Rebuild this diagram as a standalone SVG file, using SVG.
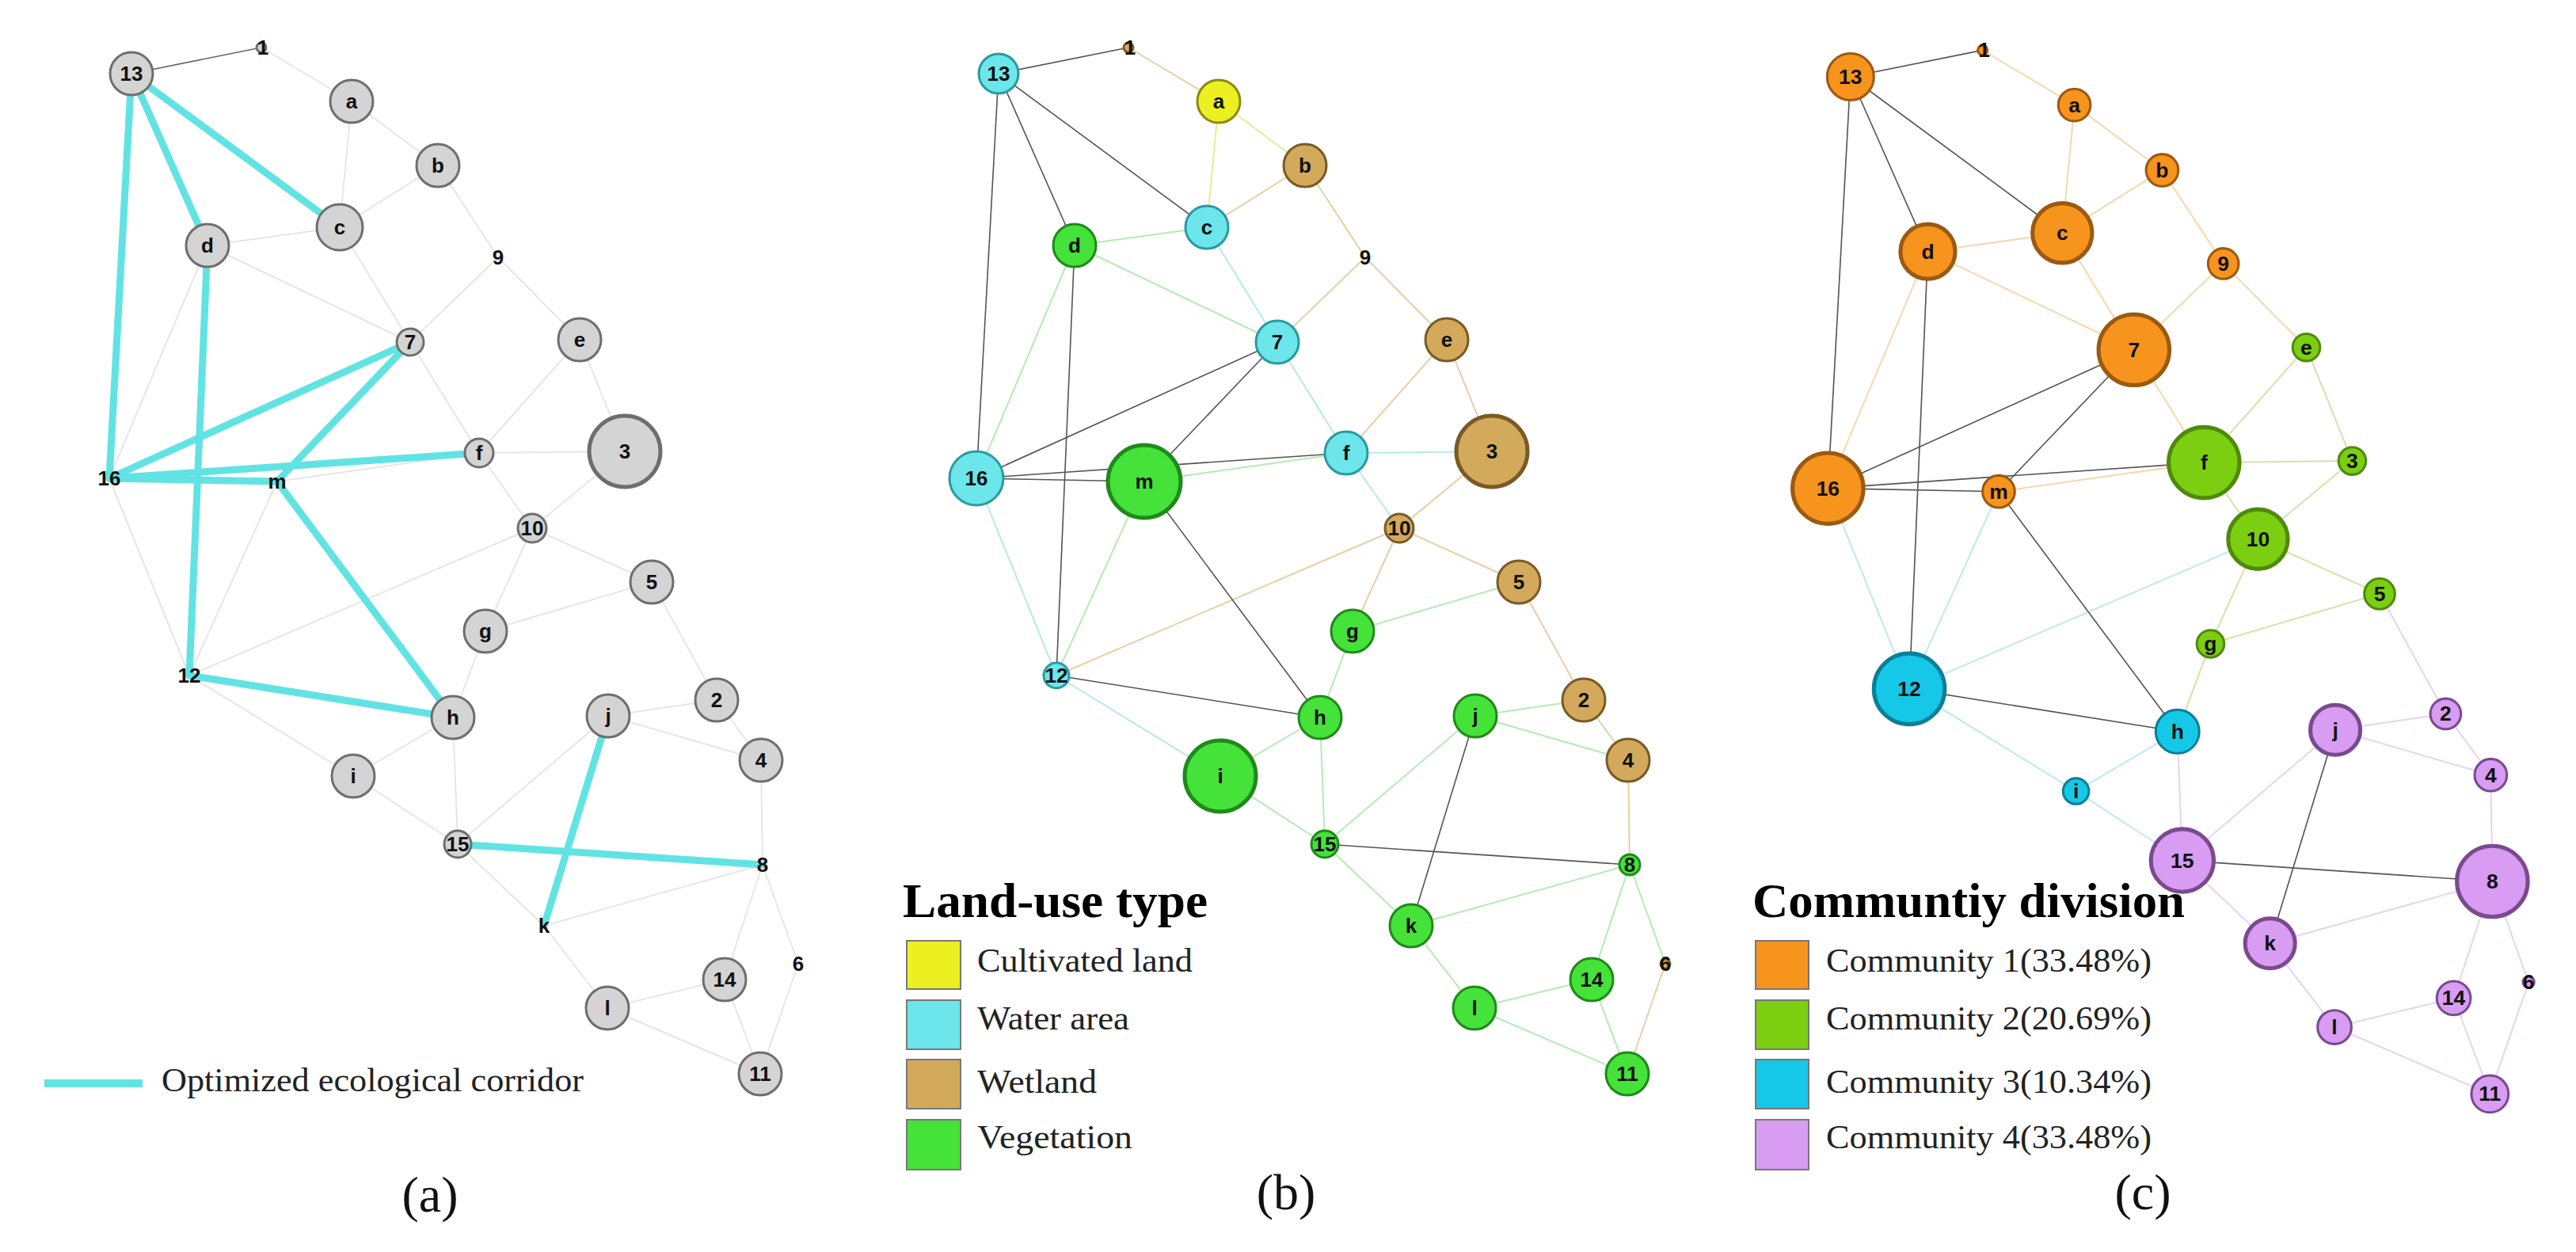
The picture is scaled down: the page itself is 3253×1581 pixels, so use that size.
<svg xmlns="http://www.w3.org/2000/svg" width="3253" height="1581" viewBox="0 0 3253 1581">
<style>
text{font-family:"Liberation Sans",Arial,sans-serif;font-weight:bold;font-size:26px;text-anchor:middle;dominant-baseline:central;fill:#111}
text.ser{font-family:"Liberation Serif","Times New Roman",serif;font-weight:normal;font-size:43px;text-anchor:start;dominant-baseline:auto;fill:#222}
text.ttl{font-family:"Liberation Serif","Times New Roman",serif;font-weight:bold;font-size:62px;text-anchor:start;dominant-baseline:auto;fill:#000}
text.pl{font-family:"Liberation Serif","Times New Roman",serif;font-weight:normal;font-size:64px;dominant-baseline:auto;fill:#111}
.ga{fill:#d4d4d4;stroke:#6e6e6e;stroke-width:3}
.Y{fill:#ecef20;stroke:#8a8a10;stroke-width:3}
.W{fill:#6ce6ea;stroke:#2a9aa0;stroke-width:3}
.T{fill:#d3aa5c;stroke:#7a5a25;stroke-width:3}
.G{fill:#45e23a;stroke:#1f8a1a;stroke-width:3}
.O{fill:#f7941d;stroke:#9a5a10;stroke-width:3}
.GG{fill:#7ccf10;stroke:#4f8a0a;stroke-width:3}
.C{fill:#16c8e8;stroke:#0a7f98;stroke-width:3}
.P{fill:#d89cf2;stroke:#7a4a8e;stroke-width:3}
.big{stroke-width:5}
.lt line{stroke-width:2;fill:none}
.dk line{stroke:#555;stroke-width:1.6}
.sw{stroke:#777;stroke-width:2}
</style>

<!-- ========== Panel (a) ========== -->
<g id="connectors-a">
<g class="lt" stroke="#e6e6e6">
<line x1="330" y1="60" x2="444" y2="128"/><line x1="444" y1="128" x2="553" y2="209"/><line x1="444" y1="128" x2="429" y2="287"/><line x1="553" y1="209" x2="429" y2="287"/><line x1="553" y1="209" x2="629" y2="325"/><line x1="262" y1="310" x2="429" y2="287"/><line x1="262" y1="310" x2="518" y2="432"/><line x1="262" y1="310" x2="138" y2="604"/><line x1="429" y1="287" x2="518" y2="432"/><line x1="629" y1="325" x2="518" y2="432"/><line x1="629" y1="325" x2="732" y2="429"/><line x1="518" y1="432" x2="605" y2="572"/><line x1="732" y1="429" x2="605" y2="572"/><line x1="732" y1="429" x2="789" y2="570"/><line x1="605" y1="572" x2="789" y2="570"/><line x1="350" y1="608" x2="605" y2="572"/><line x1="138" y1="604" x2="239" y2="853"/><line x1="350" y1="608" x2="239" y2="853"/><line x1="605" y1="572" x2="672" y2="667"/><line x1="789" y1="570" x2="672" y2="667"/><line x1="672" y1="667" x2="239" y2="853"/><line x1="672" y1="667" x2="823" y2="735"/><line x1="672" y1="667" x2="613" y2="797"/><line x1="613" y1="797" x2="823" y2="735"/><line x1="613" y1="797" x2="572" y2="906"/><line x1="239" y1="853" x2="446" y2="980"/><line x1="446" y1="980" x2="572" y2="906"/><line x1="572" y1="906" x2="578" y2="1066"/><line x1="446" y1="980" x2="578" y2="1066"/><line x1="823" y1="735" x2="905" y2="884"/><line x1="768" y1="904" x2="905" y2="884"/><line x1="768" y1="904" x2="961" y2="960"/><line x1="905" y1="884" x2="961" y2="960"/><line x1="768" y1="904" x2="578" y2="1066"/><line x1="578" y1="1066" x2="687" y2="1169"/><line x1="687" y1="1169" x2="963" y2="1092"/><line x1="961" y1="960" x2="963" y2="1092"/><line x1="963" y1="1092" x2="915" y2="1237"/><line x1="963" y1="1092" x2="1008" y2="1217"/><line x1="687" y1="1169" x2="767" y2="1273"/><line x1="767" y1="1273" x2="915" y2="1237"/><line x1="767" y1="1273" x2="960" y2="1356"/><line x1="915" y1="1237" x2="960" y2="1356"/><line x1="1008" y1="1217" x2="960" y2="1356"/>
</g>
<line x1="166" y1="93" x2="330" y2="60" stroke="#666" stroke-width="1.6"/>
<g stroke="#62e3e3" stroke-width="9" stroke-linecap="round">
<line x1="166" y1="93" x2="138" y2="604"/><line x1="166" y1="93" x2="262" y2="310"/><line x1="166" y1="93" x2="429" y2="287"/><line x1="262" y1="310" x2="239" y2="853"/><line x1="138" y1="604" x2="518" y2="432"/><line x1="138" y1="604" x2="605" y2="572"/><line x1="138" y1="604" x2="350" y2="608"/><line x1="350" y1="608" x2="518" y2="432"/><line x1="350" y1="608" x2="572" y2="906"/><line x1="239" y1="853" x2="572" y2="906"/><line x1="578" y1="1066" x2="963" y2="1092"/><line x1="768" y1="904" x2="687" y2="1169"/>
</g>
</g>
<g id="a-13"><circle cx="166" cy="93" r="27" class="ga"/><text x="166" y="93">13</text></g>
<g id="a-1"><circle cx="330" cy="60" r="6" class="ga"/><text x="332" y="60">1</text></g>
<g id="a-a"><circle cx="444" cy="128" r="27" class="ga"/><text x="444" y="128">a</text></g>
<g id="a-b"><circle cx="553" cy="209" r="27" class="ga"/><text x="553" y="209">b</text></g>
<g id="a-c"><circle cx="429" cy="287" r="29" class="ga"/><text x="429" y="287">c</text></g>
<g id="a-d"><circle cx="262" cy="310" r="27" class="ga"/><text x="262" y="310">d</text></g>
<g id="a-9"><text x="629" y="325">9</text></g>
<g id="a-7"><circle cx="518" cy="432" r="17" class="ga"/><text x="518" y="432">7</text></g>
<g id="a-e"><circle cx="732" cy="429" r="27" class="ga"/><text x="732" y="429">e</text></g>
<g id="a-3"><circle cx="789" cy="570" r="45" class="ga big"/><text x="789" y="570">3</text></g>
<g id="a-f"><circle cx="605" cy="572" r="18" class="ga"/><text x="605" y="572">f</text></g>
<g id="a-16"><text x="138" y="604">16</text></g>
<g id="a-m"><text x="350" y="608">m</text></g>
<g id="a-10"><circle cx="672" cy="667" r="18" class="ga"/><text x="672" y="667">10</text></g>
<g id="a-5"><circle cx="823" cy="735" r="27" class="ga"/><text x="823" y="735">5</text></g>
<g id="a-g"><circle cx="613" cy="797" r="27" class="ga"/><text x="613" y="797">g</text></g>
<g id="a-12"><text x="239" y="853">12</text></g>
<g id="a-h"><circle cx="572" cy="906" r="27" class="ga"/><text x="572" y="906">h</text></g>
<g id="a-j"><circle cx="768" cy="904" r="27" class="ga"/><text x="768" y="904">j</text></g>
<g id="a-2"><circle cx="905" cy="884" r="27" class="ga"/><text x="905" y="884">2</text></g>
<g id="a-4"><circle cx="961" cy="960" r="27" class="ga"/><text x="961" y="960">4</text></g>
<g id="a-i"><circle cx="446" cy="980" r="27" class="ga"/><text x="446" y="980">i</text></g>
<g id="a-15"><circle cx="578" cy="1066" r="17" class="ga"/><text x="578" y="1066">15</text></g>
<g id="a-8"><text x="963" y="1092">8</text></g>
<g id="a-k"><text x="687" y="1169">k</text></g>
<g id="a-14"><circle cx="915" cy="1237" r="27" class="ga"/><text x="915" y="1237">14</text></g>
<g id="a-6"><text x="1008" y="1217">6</text></g>
<g id="a-l"><circle cx="767" cy="1273" r="27" class="ga"/><text x="767" y="1273">l</text></g>
<g id="a-11"><circle cx="960" cy="1356" r="27" class="ga"/><text x="960" y="1356">11</text></g>
<g id="legend-a">
<line x1="56" y1="1368" x2="180" y2="1368" stroke="#62e3e3" stroke-width="10"/>
<text class="ser" x="204" y="1378" textLength="533" lengthAdjust="spacingAndGlyphs">Optimized ecological corridor</text>
<text class="pl" x="543" y="1530">(a)</text>
</g>

<!-- ========== Panel (b) ========== -->
<g transform="translate(1095,0)">
<g id="connectors-b">
<g class="lt" stroke="#d3aa5c" opacity="0.55">
<line x1="330" y1="60" x2="444" y2="128"/><line x1="553" y1="209" x2="429" y2="287"/><line x1="553" y1="209" x2="629" y2="325"/><line x1="629" y1="325" x2="518" y2="432"/><line x1="629" y1="325" x2="732" y2="429"/><line x1="732" y1="429" x2="605" y2="572"/><line x1="732" y1="429" x2="789" y2="570"/><line x1="789" y1="570" x2="672" y2="667"/><line x1="672" y1="667" x2="239" y2="853"/><line x1="672" y1="667" x2="823" y2="735"/><line x1="672" y1="667" x2="613" y2="797"/><line x1="823" y1="735" x2="905" y2="884"/><line x1="905" y1="884" x2="961" y2="960"/><line x1="961" y1="960" x2="963" y2="1092"/><line x1="1008" y1="1217" x2="960" y2="1356"/>
</g>
<g class="lt" stroke="#d8dc40" opacity="0.55">
<line x1="444" y1="128" x2="553" y2="209"/><line x1="444" y1="128" x2="429" y2="287"/>
</g>
<g class="lt" stroke="#6cd86a" opacity="0.5">
<line x1="262" y1="310" x2="429" y2="287"/><line x1="262" y1="310" x2="518" y2="432"/><line x1="262" y1="310" x2="138" y2="604"/><line x1="350" y1="608" x2="605" y2="572"/><line x1="350" y1="608" x2="239" y2="853"/><line x1="613" y1="797" x2="823" y2="735"/><line x1="613" y1="797" x2="572" y2="906"/><line x1="446" y1="980" x2="572" y2="906"/><line x1="572" y1="906" x2="578" y2="1066"/><line x1="446" y1="980" x2="578" y2="1066"/><line x1="768" y1="904" x2="905" y2="884"/><line x1="768" y1="904" x2="961" y2="960"/><line x1="768" y1="904" x2="578" y2="1066"/><line x1="578" y1="1066" x2="687" y2="1169"/><line x1="687" y1="1169" x2="963" y2="1092"/><line x1="963" y1="1092" x2="915" y2="1237"/><line x1="963" y1="1092" x2="1008" y2="1217"/><line x1="687" y1="1169" x2="767" y2="1273"/><line x1="767" y1="1273" x2="915" y2="1237"/><line x1="767" y1="1273" x2="960" y2="1356"/><line x1="915" y1="1237" x2="960" y2="1356"/>
</g>
<g class="lt" stroke="#7ad8dc" opacity="0.55">
<line x1="429" y1="287" x2="518" y2="432"/><line x1="518" y1="432" x2="605" y2="572"/><line x1="605" y1="572" x2="789" y2="570"/><line x1="138" y1="604" x2="239" y2="853"/><line x1="605" y1="572" x2="672" y2="667"/><line x1="239" y1="853" x2="446" y2="980"/>
</g>
<g class="dk">
<line x1="166" y1="93" x2="330" y2="60"/><line x1="166" y1="93" x2="138" y2="604"/><line x1="166" y1="93" x2="262" y2="310"/><line x1="166" y1="93" x2="429" y2="287"/><line x1="262" y1="310" x2="239" y2="853"/><line x1="138" y1="604" x2="518" y2="432"/><line x1="138" y1="604" x2="605" y2="572"/><line x1="138" y1="604" x2="350" y2="608"/><line x1="350" y1="608" x2="518" y2="432"/><line x1="350" y1="608" x2="572" y2="906"/><line x1="239" y1="853" x2="572" y2="906"/><line x1="578" y1="1066" x2="963" y2="1092"/><line x1="768" y1="904" x2="687" y2="1169"/>
</g>
</g>
<g id="b-13"><circle cx="166" cy="93" r="25" class="W"/><text x="166" y="93">13</text></g>
<g id="b-1"><circle cx="330" cy="60" r="6" class="T"/><text x="332" y="60">1</text></g>
<g id="b-a"><circle cx="444" cy="128" r="27" class="Y"/><text x="444" y="128">a</text></g>
<g id="b-b"><circle cx="553" cy="209" r="27" class="T"/><text x="553" y="209">b</text></g>
<g id="b-c"><circle cx="429" cy="287" r="27" class="W"/><text x="429" y="287">c</text></g>
<g id="b-d"><circle cx="262" cy="310" r="27" class="G"/><text x="262" y="310">d</text></g>
<g id="b-9"><text x="629" y="325">9</text></g>
<g id="b-7"><circle cx="518" cy="432" r="27" class="W"/><text x="518" y="432">7</text></g>
<g id="b-e"><circle cx="732" cy="429" r="27" class="T"/><text x="732" y="429">e</text></g>
<g id="b-3"><circle cx="789" cy="570" r="45" class="T big"/><text x="789" y="570">3</text></g>
<g id="b-f"><circle cx="605" cy="572" r="27" class="W"/><text x="605" y="572">f</text></g>
<g id="b-16"><circle cx="138" cy="604" r="34" class="W"/><text x="138" y="604">16</text></g>
<g id="b-m"><circle cx="350" cy="608" r="46" class="G big"/><text x="350" y="608">m</text></g>
<g id="b-10"><circle cx="672" cy="667" r="18" class="T"/><text x="672" y="667">10</text></g>
<g id="b-5"><circle cx="823" cy="735" r="27" class="T"/><text x="823" y="735">5</text></g>
<g id="b-g"><circle cx="613" cy="797" r="27" class="G"/><text x="613" y="797">g</text></g>
<g id="b-12"><circle cx="239" cy="853" r="16" class="W"/><text x="239" y="853">12</text></g>
<g id="b-h"><circle cx="572" cy="906" r="27" class="G"/><text x="572" y="906">h</text></g>
<g id="b-j"><circle cx="768" cy="904" r="27" class="G"/><text x="768" y="904">j</text></g>
<g id="b-2"><circle cx="905" cy="884" r="27" class="T"/><text x="905" y="884">2</text></g>
<g id="b-4"><circle cx="961" cy="960" r="27" class="T"/><text x="961" y="960">4</text></g>
<g id="b-i"><circle cx="446" cy="980" r="45" class="G big"/><text x="446" y="980">i</text></g>
<g id="b-15"><circle cx="578" cy="1066" r="17" class="G"/><text x="578" y="1066">15</text></g>
<g id="b-8"><circle cx="963" cy="1092" r="13" class="G"/><text x="963" y="1092">8</text></g>
<g id="b-k"><circle cx="687" cy="1169" r="27" class="G"/><text x="687" y="1169">k</text></g>
<g id="b-14"><circle cx="915" cy="1237" r="27" class="G"/><text x="915" y="1237">14</text></g>
<g id="b-6"><circle cx="1008" cy="1217" r="6" class="T"/><text x="1008" y="1217">6</text></g>
<g id="b-l"><circle cx="767" cy="1273" r="27" class="G"/><text x="767" y="1273">l</text></g>
<g id="b-11"><circle cx="960" cy="1356" r="27" class="G"/><text x="960" y="1356">11</text></g>
</g>
<g id="legend-b">
<text class="ttl" x="1140" y="1158" textLength="385" lengthAdjust="spacingAndGlyphs">Land-use type</text>
<rect x="1145" y="1188" width="68" height="61" fill="#ecef20" class="sw"/>
<rect x="1145" y="1263" width="68" height="62" fill="#6ce6ea" class="sw"/>
<rect x="1145" y="1338" width="68" height="62" fill="#d3aa5c" class="sw"/>
<rect x="1145" y="1414" width="68" height="63" fill="#45e23a" class="sw"/>
<text class="ser" x="1234" y="1227" textLength="272" lengthAdjust="spacingAndGlyphs">Cultivated land</text>
<text class="ser" x="1234" y="1300" textLength="192" lengthAdjust="spacingAndGlyphs">Water area</text>
<text class="ser" x="1234" y="1380" textLength="151" lengthAdjust="spacingAndGlyphs">Wetland</text>
<text class="ser" x="1234" y="1450" textLength="196" lengthAdjust="spacingAndGlyphs">Vegetation</text>
<text class="pl" x="1624" y="1527">(b)</text>
</g>

<!-- ========== Panel (c) ========== -->
<g transform="translate(2168,2.4) scale(1.017)">
<g id="connectors-c">
<g class="lt" stroke="#f2b870" opacity="0.55">
<line x1="330" y1="60" x2="444" y2="128"/><line x1="444" y1="128" x2="553" y2="209"/><line x1="444" y1="128" x2="429" y2="287"/><line x1="553" y1="209" x2="429" y2="287"/><line x1="553" y1="209" x2="629" y2="325"/><line x1="262" y1="310" x2="429" y2="287"/><line x1="262" y1="310" x2="518" y2="432"/><line x1="262" y1="310" x2="138" y2="604"/><line x1="429" y1="287" x2="518" y2="432"/><line x1="629" y1="325" x2="518" y2="432"/><line x1="629" y1="325" x2="732" y2="429"/><line x1="518" y1="432" x2="605" y2="572"/><line x1="350" y1="608" x2="605" y2="572"/>
</g>
<g class="lt" stroke="#b4d470" opacity="0.6">
<line x1="732" y1="429" x2="605" y2="572"/><line x1="732" y1="429" x2="789" y2="570"/><line x1="605" y1="572" x2="789" y2="570"/><line x1="605" y1="572" x2="672" y2="667"/><line x1="789" y1="570" x2="672" y2="667"/><line x1="672" y1="667" x2="823" y2="735"/><line x1="672" y1="667" x2="613" y2="797"/><line x1="613" y1="797" x2="823" y2="735"/><line x1="613" y1="797" x2="572" y2="906"/>
</g>
<g class="lt" stroke="#8ad8e8" opacity="0.55">
<line x1="138" y1="604" x2="239" y2="853"/><line x1="350" y1="608" x2="239" y2="853"/><line x1="672" y1="667" x2="239" y2="853"/><line x1="239" y1="853" x2="446" y2="980"/><line x1="446" y1="980" x2="572" y2="906"/><line x1="446" y1="980" x2="578" y2="1066"/>
</g>
<g class="lt" stroke="#d8b8e6" opacity="0.6">
<line x1="572" y1="906" x2="578" y2="1066"/><line x1="823" y1="735" x2="905" y2="884"/><line x1="768" y1="904" x2="905" y2="884"/><line x1="768" y1="904" x2="961" y2="960"/><line x1="905" y1="884" x2="961" y2="960"/><line x1="768" y1="904" x2="578" y2="1066"/><line x1="578" y1="1066" x2="687" y2="1169"/><line x1="687" y1="1169" x2="963" y2="1092"/><line x1="961" y1="960" x2="963" y2="1092"/><line x1="963" y1="1092" x2="915" y2="1237"/><line x1="963" y1="1092" x2="1008" y2="1217"/><line x1="687" y1="1169" x2="767" y2="1273"/><line x1="767" y1="1273" x2="915" y2="1237"/><line x1="767" y1="1273" x2="960" y2="1356"/><line x1="915" y1="1237" x2="960" y2="1356"/><line x1="1008" y1="1217" x2="960" y2="1356"/>
</g>
<g class="dk">
<line x1="166" y1="93" x2="330" y2="60"/><line x1="166" y1="93" x2="138" y2="604"/><line x1="166" y1="93" x2="262" y2="310"/><line x1="166" y1="93" x2="429" y2="287"/><line x1="262" y1="310" x2="239" y2="853"/><line x1="138" y1="604" x2="518" y2="432"/><line x1="138" y1="604" x2="605" y2="572"/><line x1="138" y1="604" x2="350" y2="608"/><line x1="350" y1="608" x2="518" y2="432"/><line x1="350" y1="608" x2="572" y2="906"/><line x1="239" y1="853" x2="572" y2="906"/><line x1="578" y1="1066" x2="963" y2="1092"/><line x1="768" y1="904" x2="687" y2="1169"/>
</g>
</g>
<g id="c-13"><circle cx="166" cy="93" r="29" class="O"/><text x="166" y="93">13</text></g>
<g id="c-1"><circle cx="330" cy="60" r="6" class="O"/><text x="332" y="60">1</text></g>
<g id="c-a"><circle cx="444" cy="128" r="20" class="O"/><text x="444" y="128">a</text></g>
<g id="c-b"><circle cx="553" cy="209" r="20" class="O"/><text x="553" y="209">b</text></g>
<g id="c-c"><circle cx="429" cy="287" r="37" class="O big"/><text x="429" y="287">c</text></g>
<g id="c-d"><circle cx="262" cy="310" r="34" class="O big"/><text x="262" y="310">d</text></g>
<g id="c-9"><circle cx="629" cy="325" r="19" class="O"/><text x="629" y="325">9</text></g>
<g id="c-7"><circle cx="518" cy="432" r="44" class="O big"/><text x="518" y="432">7</text></g>
<g id="c-e"><circle cx="732" cy="429" r="17" class="GG"/><text x="732" y="429">e</text></g>
<g id="c-3"><circle cx="789" cy="570" r="17" class="GG"/><text x="789" y="570">3</text></g>
<g id="c-f"><circle cx="605" cy="572" r="44" class="GG big"/><text x="605" y="572">f</text></g>
<g id="c-16"><circle cx="138" cy="604" r="44" class="O big"/><text x="138" y="604">16</text></g>
<g id="c-m"><circle cx="350" cy="608" r="20" class="O"/><text x="350" y="608">m</text></g>
<g id="c-10"><circle cx="672" cy="667" r="37" class="GG big"/><text x="672" y="667">10</text></g>
<g id="c-5"><circle cx="823" cy="735" r="19" class="GG"/><text x="823" y="735">5</text></g>
<g id="c-g"><circle cx="613" cy="797" r="17" class="GG"/><text x="613" y="797">g</text></g>
<g id="c-12"><circle cx="239" cy="853" r="44" class="C big"/><text x="239" y="853">12</text></g>
<g id="c-h"><circle cx="572" cy="906" r="27" class="C"/><text x="572" y="906">h</text></g>
<g id="c-j"><circle cx="768" cy="904" r="31" class="P big"/><text x="768" y="904">j</text></g>
<g id="c-2"><circle cx="905" cy="884" r="19" class="P"/><text x="905" y="884">2</text></g>
<g id="c-4"><circle cx="961" cy="960" r="20" class="P"/><text x="961" y="960">4</text></g>
<g id="c-i"><circle cx="446" cy="980" r="16" class="C"/><text x="446" y="980">i</text></g>
<g id="c-15"><circle cx="578" cy="1066" r="39" class="P big"/><text x="578" y="1066">15</text></g>
<g id="c-8"><circle cx="963" cy="1092" r="44" class="P big"/><text x="963" y="1092">8</text></g>
<g id="c-k"><circle cx="687" cy="1169" r="31" class="P big"/><text x="687" y="1169">k</text></g>
<g id="c-14"><circle cx="915" cy="1237" r="21" class="P"/><text x="915" y="1237">14</text></g>
<g id="c-6"><circle cx="1008" cy="1217" r="7" class="P"/><text x="1008" y="1217">6</text></g>
<g id="c-l"><circle cx="767" cy="1273" r="21" class="P"/><text x="767" y="1273">l</text></g>
<g id="c-11"><circle cx="960" cy="1356" r="23" class="P"/><text x="960" y="1356">11</text></g>
</g>
<g id="legend-c">
<text class="ttl" x="2213" y="1158" textLength="546" lengthAdjust="spacingAndGlyphs">Communtiy division</text>
<rect x="2217" y="1188" width="67" height="61" fill="#f7941d" class="sw"/>
<rect x="2217" y="1263" width="67" height="62" fill="#7ccf10" class="sw"/>
<rect x="2217" y="1338" width="67" height="62" fill="#16c8e8" class="sw"/>
<rect x="2217" y="1414" width="67" height="63" fill="#d89cf2" class="sw"/>
<text class="ser" x="2306" y="1227" textLength="411" lengthAdjust="spacingAndGlyphs">Community 1(33.48%)</text>
<text class="ser" x="2306" y="1300" textLength="411" lengthAdjust="spacingAndGlyphs">Community 2(20.69%)</text>
<text class="ser" x="2306" y="1380" textLength="411" lengthAdjust="spacingAndGlyphs">Community 3(10.34%)</text>
<text class="ser" x="2306" y="1450" textLength="411" lengthAdjust="spacingAndGlyphs">Community 4(33.48%)</text>
<text class="pl" x="2706" y="1527">(c)</text>
</g>
</svg>
